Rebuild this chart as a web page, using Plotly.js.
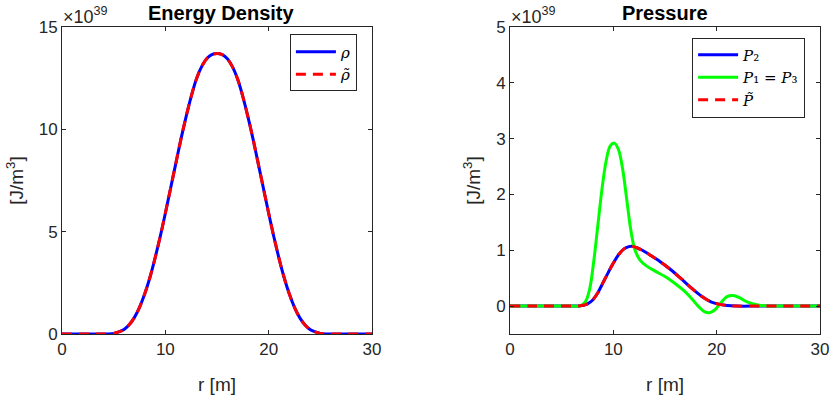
<!DOCTYPE html>
<html>
<head>
<meta charset="utf-8">
<script src="https://cdn.plot.ly/plotly-3.0.1.min.js"></script>
<style>
  html, body { margin: 0; padding: 0; background: #fff; }
  #chart { width: 830px; height: 396px; }
</style>
</head>
<body>
<div id="chart"></div>
<script>
// values (units of 1e39 J/m^3)
const rRho = [0, 1, 2, 3, 4, 5, 5.5, 6, 6.5, 7, 7.5, 8, 8.5, 9, 9.5, 10, 10.5, 11, 11.5, 12, 12.5, 13, 13.5, 14, 14.5, 15,
              15.5, 16, 16.5, 17, 17.5, 18, 18.5, 19, 19.5, 20, 20.5, 21, 21.5, 22, 22.5, 23, 23.5, 24, 24.5, 25, 26, 27, 28, 29, 30];
const rhoHalf = [0, 0, 0, 0, 0, 0.03, 0.1, 0.22, 0.45, 0.8, 1.3, 1.95, 2.75, 3.7, 4.75, 5.9, 7.1, 8.3, 9.5, 10.6, 11.6, 12.45, 13.05, 13.45, 13.65, 13.7];
const rho = rhoHalf.concat(rhoHalf.slice(0, -1).reverse());
const rhoTilde = rho.slice();

const rP = [0, 2, 4, 6, 6.8, 7.5, 8, 8.5, 9, 9.5, 10, 10.5, 11, 11.5, 11.8, 12.2, 12.8, 13.5, 14.5, 15.5, 16.5, 17.5, 18.5, 19.5, 20.3, 21, 22, 24, 26, 28, 30];
const p2 = [0, 0, 0, 0, 0.005, 0.04, 0.11, 0.24, 0.42, 0.6, 0.77, 0.92, 1.02, 1.065, 1.07, 1.05, 1.0, 0.92, 0.8, 0.66, 0.5, 0.33, 0.18, 0.07, 0.03, 0.01, 0, 0, 0, 0, 0];
const pTilde = p2.slice();

const rP1 = [0, 2, 4, 6, 6.8, 7.3, 7.7, 8.1, 8.5, 8.9, 9.3, 9.7, 10.1, 10.5, 10.9, 11.3, 11.7, 12.1, 12.6, 13.2, 14, 15, 16, 16.8, 17.5, 18.2, 18.8, 19.3, 19.8, 20.4, 21, 21.6, 22.2, 23, 24, 25, 26, 28, 30];
const p1 = [0, 0, 0, 0, 0.005, 0.08, 0.3, 0.8, 1.45, 2.1, 2.6, 2.87, 2.92, 2.8, 2.45, 1.9, 1.35, 1.0, 0.82, 0.72, 0.63, 0.53, 0.4, 0.28, 0.15, 0.0, -0.1, -0.12, -0.07, 0.06, 0.17, 0.19, 0.15, 0.07, 0.02, 0, 0, 0, 0];

const rhoTicks = [0, 5, 10, 15];
const pTicks = [0, 1, 2, 3, 4, 5];
const rTicks = [0, 10, 20, 30];

const fontMain = 'Liberation Sans, Arial, sans-serif';
const axisBase = {
  showline: true, mirror: 'ticks', linecolor: '#262626', linewidth: 1,
  ticks: 'inside', ticklen: 4, tickcolor: '#262626',
  showgrid: false, zeroline: false,
  tickfont: { family: fontMain, size: 17, color: '#262626' }
};
const axisTitleFont = { family: fontMain, size: 19, color: '#262626' };

const traces = [
  { x: rRho, y: rho, name: '<i>ρ</i>', mode: 'lines', line: { color: '#0000ff', width: 3, shape: 'spline' }, xaxis: 'x', yaxis: 'y', legend: 'legend' },
  { x: rRho, y: rhoTilde, name: '<i>ρ̃</i>', mode: 'lines', line: { color: '#ff0000', width: 3, dash: '10px,7px', shape: 'spline' }, xaxis: 'x', yaxis: 'y', legend: 'legend' },
  { x: rP, y: p2, name: '<i>P</i>₂', mode: 'lines', line: { color: '#0000ff', width: 3, shape: 'spline' }, xaxis: 'x2', yaxis: 'y2', legend: 'legend2' },
  { x: rP1, y: p1, name: '<i>P</i>₁ = <i>P</i>₃', mode: 'lines', line: { color: '#00ff00', width: 3, shape: 'spline' }, xaxis: 'x2', yaxis: 'y2', legend: 'legend2' },
  { x: rP, y: pTilde, name: '<i>P̃</i>', mode: 'lines', line: { color: '#ff0000', width: 3, dash: '10px,7px', shape: 'spline' }, xaxis: 'x2', yaxis: 'y2', legend: 'legend2' }
];

const legendBase = {
  bgcolor: '#ffffff', bordercolor: '#262626', borderwidth: 1,
  font: { family: 'DejaVu Serif, serif', size: 15, color: '#000' },
  xanchor: 'right', yanchor: 'top', tracegroupgap: 0, itemwidth: 40
};

const layout = {
  width: 830, height: 396,
  margin: { l: 0, r: 0, t: 0, b: 0 },
  paper_bgcolor: '#ffffff', plot_bgcolor: '#ffffff',
  showlegend: true,
  xaxis: Object.assign({}, axisBase, {
    domain: [0.0747, 0.4482], range: [0, 30], tickvals: rTicks, anchor: 'y',
    title: { text: 'r [m]', font: axisTitleFont, standoff: 19 }
  }),
  yaxis: Object.assign({}, axisBase, {
    domain: [0.1566, 0.9318], range: [0, 15], tickvals: rhoTicks, anchor: 'x',
    title: { text: '[J/m<sup>3</sup>]', font: axisTitleFont, standoff: 10 }
  }),
  xaxis2: Object.assign({}, axisBase, {
    domain: [0.6145, 0.988], range: [0, 30], tickvals: rTicks, anchor: 'y2',
    title: { text: 'r [m]', font: axisTitleFont, standoff: 19 }
  }),
  yaxis2: Object.assign({}, axisBase, {
    domain: [0.1566, 0.9318], range: [-0.5, 5], tickvals: pTicks, anchor: 'x2',
    title: { text: '[J/m<sup>3</sup>]', font: axisTitleFont, standoff: 10 }
  }),
  legend: Object.assign({}, legendBase, { x: 0.43, y: 0.913 }),
  legend2: Object.assign({}, legendBase, { x: 0.97, y: 0.905 }),
  annotations: [
    { text: '<b>Energy Density</b>', xref: 'paper', yref: 'paper', x: 0.2665, y: 0.968, xanchor: 'center', yanchor: 'middle', showarrow: false,
      font: { family: fontMain, size: 20, color: '#000' } },
    { text: '<b>Pressure</b>', xref: 'paper', yref: 'paper', x: 0.801, y: 0.968, xanchor: 'center', yanchor: 'middle', showarrow: false,
      font: { family: fontMain, size: 20, color: '#000' } },
    { text: '×10<sup>39</sup>', xref: 'paper', yref: 'paper', x: 0.0735, y: 0.962, xanchor: 'left', yanchor: 'middle', showarrow: false,
      font: { family: fontMain, size: 18, color: '#262626' } },
    { text: '×10<sup>39</sup>', xref: 'paper', yref: 'paper', x: 0.6133, y: 0.962, xanchor: 'left', yanchor: 'middle', showarrow: false,
      font: { family: fontMain, size: 18, color: '#262626' } }
  ]
};

Plotly.newPlot('chart', traces, layout, { displayModeBar: false, staticPlot: true });
</script>
</body>
</html>
